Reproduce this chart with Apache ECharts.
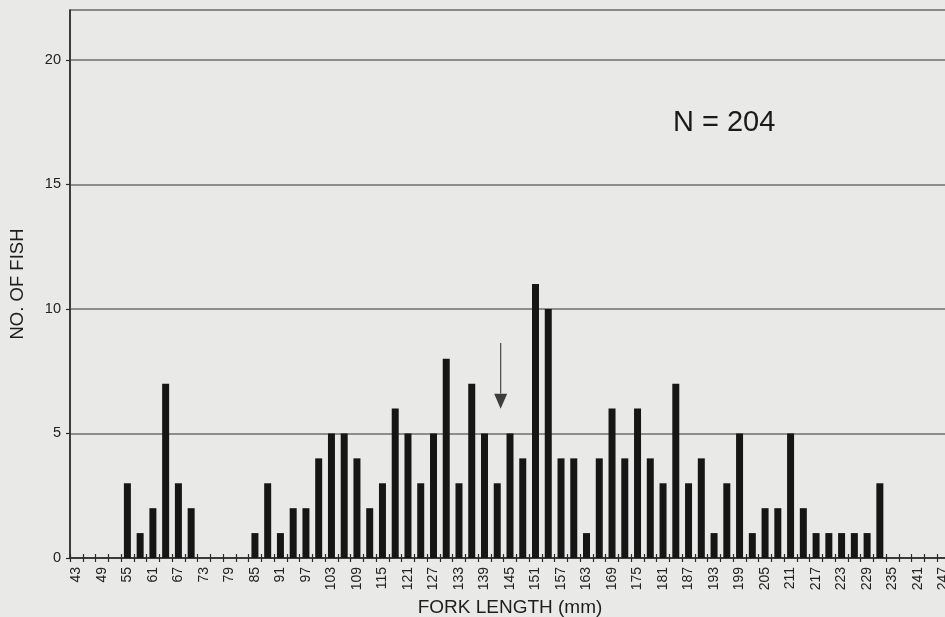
<!DOCTYPE html>
<html>
<head>
<meta charset="utf-8">
<title>Fork length frequency</title>
<script src="https://cdn.jsdelivr.net/npm/echarts@6/dist/echarts.min.js"></script>
<style>
  html, body { margin: 0; padding: 0; background: #e9e9e8; }
  #chart { width: 945px; height: 617px; }
</style>
</head>
<body>
<div id="chart"></div>
<script>
// 3 mm fork-length classes (class mid-points, mm)
const lengthClasses = [
  '43','46','49','52','55','58','61','64','67','70',
  '73','76','79','82','85','88','91','94','97','100',
  '103','106','109','112','115','118','121','124','127','130',
  '133','136','139','142','145','148','151','154','157','160',
  '163','166','169','172','175','178','181','184','187','190',
  '193','196','199','202','205','208','211','214','217','220',
  '223','226','229','232','235','238','241','244','247'
];

// number of fish in each class (N = 204)
const fishCounts = [
  0, 0, 0, 0, 3, 1, 2, 7, 3, 2,
  0, 0, 0, 0, 1, 3, 1, 2, 2, 4,
  5, 5, 4, 2, 3, 6, 5, 3, 5, 8,
  3, 7, 5, 3, 5, 4, 11, 10, 4, 4,
  1, 4, 6, 4, 6, 4, 3, 7, 3, 4,
  1, 3, 5, 1, 2, 2, 5, 2, 1, 1,
  1, 1, 1, 3, 0, 0, 0, 0, 0
];

// y-axis ticks
const countTicks = [0, 5, 10, 15, 20];

// arrow marker: position on the length scale (mm) and its vertical extent (no. of fish)
const arrowLength = 142.8;
const arrowShaft = [8.63, 6.6];
const arrowHeadCentre = 6.29;

// continuous length scale spanning the outer edges of the first and last class
const lengthRange = [41.5, 248.5];

const FONT = "'Liberation Sans', Arial, sans-serif";

const chart = echarts.init(document.getElementById('chart'), null, { renderer: 'canvas' });

chart.setOption({
  backgroundColor: '#e9e9e8',
  animation: false,
  textStyle: { fontFamily: FONT },
  grid: {
    left: 70, top: 10, width: 880, height: 548,
    outerBoundsMode: 'none',
    containLabel: false,
    show: true, borderColor: '#2a2a2a', borderWidth: 1.2,
    backgroundColor: 'transparent'
  },
  xAxis: [
    {
      type: 'category',
      data: lengthClasses,
      boundaryGap: true,
      name: 'FORK LENGTH (mm)',
      nameLocation: 'middle',
      nameGap: 39,
      nameTextStyle: { fontSize: 19, color: '#1e1e1e', fontFamily: FONT },
      axisLine: { lineStyle: { color: '#2a2a2a', width: 1.5 } },
      axisTick: { show: true, interval: 0, length: 4, inside: false, lineStyle: { color: '#2a2a2a', width: 1.2 } },
      axisLabel: { interval: 1, rotate: 90, margin: 9, fontSize: 14, color: '#222', fontFamily: FONT },
      splitLine: { show: false }
    },
    {
      // inward half of the crossing tick marks
      type: 'category',
      data: lengthClasses,
      boundaryGap: true,
      position: 'bottom',
      axisLine: { show: false },
      axisTick: { show: true, interval: 0, length: 4, inside: true, lineStyle: { color: '#2a2a2a', width: 1.2 } },
      axisLabel: { show: false },
      splitLine: { show: false }
    },
    {
      type: 'value',
      min: lengthRange[0],
      max: lengthRange[1],
      show: false
    }
  ],
  yAxis: {
    type: 'value',
    min: 0,
    max: 22,
    interval: 5,
    name: 'NO. OF FISH',
    nameLocation: 'middle',
    nameRotate: 90,
    nameGap: 43,
    nameTextStyle: { fontSize: 18.5, color: '#1e1e1e', fontFamily: FONT },
    axisLine: { show: true, lineStyle: { color: '#2a2a2a', width: 1.5 } },
    axisTick: { show: true, length: 4, lineStyle: { color: '#2a2a2a', width: 1.2 }, customValues: countTicks },
    axisLabel: { fontSize: 14.5, color: '#222', margin: 9, fontFamily: FONT, customValues: countTicks },
    splitLine: { show: true, lineStyle: { color: '#6e6e6e', width: 1.5 } }
  },
  series: [
    {
      type: 'bar',
      xAxisIndex: 0,
      data: fishCounts,
      barWidth: 7,
      itemStyle: { color: '#161616' },
      silent: true
    },
    {
      type: 'line',
      xAxisIndex: 2,
      data: [[arrowLength, arrowShaft[0]], [arrowLength, arrowShaft[1]]],
      symbol: 'none',
      lineStyle: { color: '#555', width: 1.3 },
      silent: true,
      z: 5
    },
    {
      type: 'scatter',
      xAxisIndex: 2,
      data: [[arrowLength, arrowHeadCentre]],
      symbol: 'triangle',
      symbolRotate: 180,
      symbolSize: [13, 15],
      itemStyle: { color: '#111111' },
      silent: true,
      z: 6
    }
  ],
  graphic: [
    {
      type: 'text',
      left: 673,
      top: 108,
      style: { text: 'N = 204', fontSize: 29, fill: '#1a1a1a', fontFamily: FONT }
    }
  ]
});
</script>
</body>
</html>
